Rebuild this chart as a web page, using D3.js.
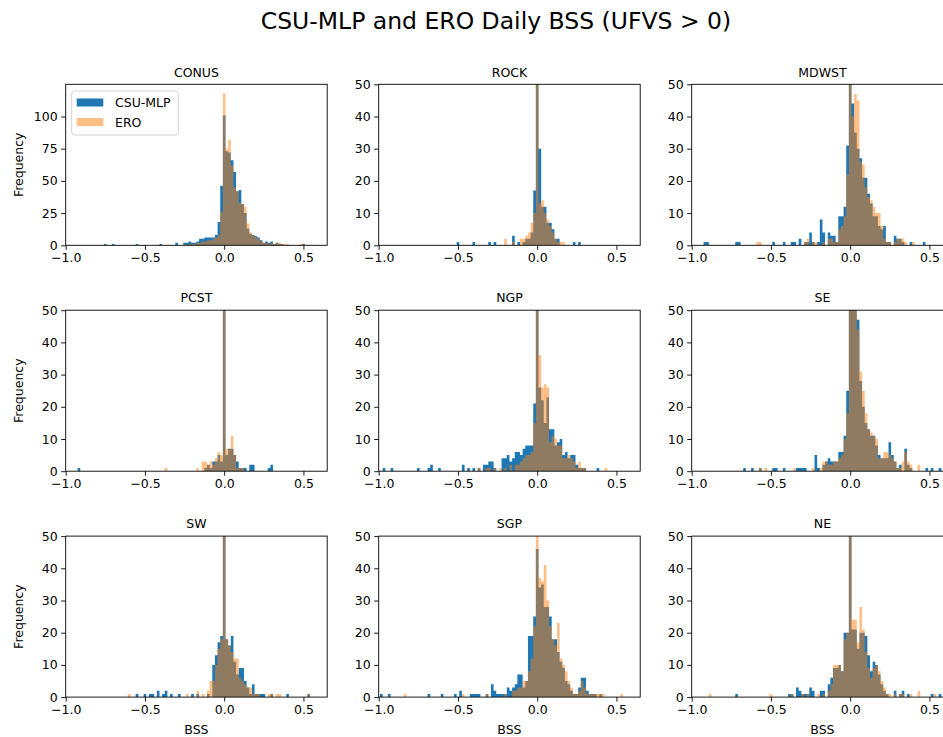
<!DOCTYPE html>
<html>
<head>
<meta charset="utf-8">
<script src="https://cdn.jsdelivr.net/npm/d3@7"></script>
<style>
  body { margin: 0; background: #fff; overflow: hidden; }
  text { font-family: "DejaVu Sans", sans-serif; fill: #000; }
</style>
</head>
<body>
<script>
// histogram bins are 1/60 wide; bin k is centred on BSS = k/60
const binWidth = 1 / 60;
const regions = ['CONUS', 'ROCK', 'MDWST', 'PCST', 'NGP', 'SE', 'SW', 'SGP', 'NE'];
const seriesNames = ['CSU-MLP', 'ERO'];
const xTicks = [-1.0, -0.5, 0.0, 0.5];
const conusTicks = [0, 25, 50, 75, 100];
const regionTicks = [0, 10, 20, 30, 40, 50];

// [bin, count] pairs, empty bins left out
const conusMlp = [[-45,1],[-42,1],[-33,1],[-24,1],[-18,2],[-15,2],[-14,2],[-13,3],[-12,2],[-11,2],[-10,3],[-9,5],[-8,5],[-7,6],[-6,6],[-5,6],[-4,6],[-3,8],[-2,18],[-1,46],[0,101],[1,73],[2,72],[3,66],[4,57],[5,42],[6,43],[7,32],[8,25],[9,13],[10,9],[11,8],[12,7],[13,6],[14,4],[15,2],[16,3],[17,2],[18,3],[19,1],[20,2],[21,1],[22,1],[30,1]];
const conusEro = [[-15,1],[-13,1],[-12,1],[-11,1],[-10,2],[-9,2],[-8,3],[-7,3],[-6,4],[-5,4],[-4,5],[-3,6],[-2,8],[-1,26],[0,118],[1,75],[2,82],[3,62],[4,45],[5,42],[6,33],[7,32],[8,30],[9,17],[10,10],[11,8],[12,6],[13,5],[14,3],[15,2],[16,2],[17,1],[18,2],[19,1],[20,2],[21,2],[22,1],[23,1],[24,1],[29,1],[30,1]];
const rockMlp = [[-30,1],[-24,1],[-18,1],[-16,1],[-9,3],[-7,1],[-5,1],[-4,2],[-3,2],[-2,4],[-1,17],[0,80],[1,30],[2,12],[3,12],[4,7],[5,7],[6,5],[7,2],[8,2],[14,1],[16,1]];
const rockEro = [[-12,2],[-9,1],[-6,2],[-5,2],[-4,3],[-3,4],[-2,7],[-1,10],[0,80],[1,13],[2,14],[3,10],[4,8],[5,6],[6,4],[7,2],[8,1],[9,1],[10,1]];
const mdwstMlp = [[-55,1],[-54,1],[-43,1],[-42,1],[-29,1],[-25,1],[-22,1],[-21,1],[-19,2],[-17,1],[-16,1],[-15,4],[-14,1],[-12,1],[-11,8],[-10,4],[-8,4],[-7,3],[-6,3],[-5,1],[-4,9],[-3,9],[-2,12],[-1,31],[0,80],[1,44],[2,35],[3,30],[4,27],[5,21],[6,21],[7,16],[8,13],[9,9],[10,9],[11,6],[12,5],[13,6],[14,1],[15,1],[17,3],[18,2],[19,2],[20,1],[23,1],[28,1]];
const mdwstEro = [[-35,1],[-34,1],[-17,1],[-16,2],[-14,1],[-13,1],[-10,1],[-8,2],[-7,2],[-6,1],[-5,1],[-4,5],[-3,6],[-2,9],[-1,22],[0,80],[1,40],[2,47],[3,45],[4,26],[5,25],[6,18],[7,15],[8,14],[9,12],[10,10],[11,10],[12,6],[13,2],[14,1],[15,1],[17,1],[18,2],[19,2],[20,2],[21,1],[24,1]];
const pcstMlp = [[-55,1],[-7,1],[-6,2],[-5,1],[-4,3],[-3,3],[-2,5],[-1,3],[0,80],[1,5],[2,7],[3,7],[4,5],[5,3],[6,1],[7,1],[8,1],[10,2],[11,2],[17,1],[18,2]];
const pcstEro = [[-22,1],[-10,1],[-8,3],[-7,3],[-6,2],[-5,3],[-4,2],[-3,4],[-2,6],[-1,5],[0,80],[1,7],[2,7],[3,11],[4,5],[5,1],[6,1],[7,1]];
const ngpMlp = [[-58,1],[-55,1],[-45,1],[-41,1],[-40,2],[-37,1],[-28,2],[-26,1],[-24,1],[-22,1],[-20,2],[-19,2],[-18,3],[-17,3],[-16,1],[-13,4],[-12,4],[-11,5],[-10,3],[-9,4],[-8,6],[-7,6],[-6,5],[-5,7],[-4,8],[-3,8],[-2,8],[-1,21],[0,80],[1,26],[2,22],[3,15],[4,23],[5,13],[6,13],[7,8],[8,9],[9,10],[10,5],[11,6],[12,4],[13,5],[14,5],[15,2],[16,1],[17,1],[18,1],[23,1]];
const ngpEro = [[-22,1],[-19,1],[-18,1],[-16,1],[-14,1],[-12,1],[-10,2],[-8,2],[-7,2],[-6,3],[-5,4],[-4,5],[-3,5],[-2,6],[-1,15],[0,80],[1,36],[2,26],[3,27],[4,26],[5,9],[6,11],[7,10],[8,8],[9,8],[10,4],[11,4],[12,5],[13,4],[14,3],[15,1],[16,3],[17,1],[18,1],[26,1]];
const seMlp = [[-40,1],[-37,1],[-34,1],[-29,1],[-28,1],[-25,1],[-20,1],[-19,1],[-18,1],[-17,1],[-13,5],[-12,1],[-10,2],[-9,3],[-8,4],[-7,3],[-6,3],[-5,3],[-4,6],[-3,6],[-2,11],[-1,25],[0,80],[1,80],[2,80],[3,47],[4,28],[5,20],[6,15],[7,13],[8,11],[9,11],[10,8],[11,5],[12,4],[13,4],[14,4],[15,9],[16,5],[17,3],[18,1],[19,2],[21,7],[22,2],[23,1],[29,1],[31,1],[34,1]];
const seEro = [[-34,1],[-32,1],[-21,1],[-14,1],[-11,1],[-10,3],[-9,3],[-8,2],[-7,2],[-6,3],[-5,3],[-4,4],[-3,5],[-2,10],[-1,18],[0,80],[1,80],[2,80],[3,44],[4,31],[5,25],[6,18],[7,13],[8,12],[9,11],[10,10],[11,4],[12,4],[13,6],[14,6],[15,5],[16,4],[17,3],[18,1],[19,1],[20,3],[21,6],[22,3],[23,2],[26,2]];
const swMlp = [[-33,1],[-30,1],[-28,1],[-27,1],[-25,2],[-23,1],[-22,2],[-20,1],[-17,1],[-12,1],[-10,1],[-6,1],[-4,10],[-3,13],[-2,17],[-1,19],[0,80],[1,18],[2,16],[3,19],[4,11],[5,7],[6,9],[7,9],[8,5],[9,3],[10,1],[11,4],[12,1],[13,1],[14,1],[15,1],[18,1],[24,1],[32,1]];
const swEro = [[-36,1],[-14,1],[-10,2],[-8,1],[-6,2],[-5,5],[-4,5],[-3,10],[-2,15],[-1,18],[0,80],[1,18],[2,16],[3,14],[4,12],[5,12],[6,6],[7,5],[8,4],[9,3],[10,3],[11,1],[12,1],[13,1],[17,1],[18,1],[20,1],[21,1],[32,1]];
const sgpMlp = [[-59,1],[-56,1],[-41,1],[-36,1],[-31,1],[-29,2],[-25,1],[-24,1],[-23,1],[-22,1],[-19,1],[-17,4],[-16,2],[-15,1],[-14,1],[-13,1],[-12,1],[-11,3],[-10,2],[-9,3],[-8,4],[-7,7],[-6,7],[-5,3],[-4,5],[-3,19],[-2,19],[-1,25],[0,46],[1,34],[2,35],[3,28],[4,28],[5,25],[6,18],[7,18],[8,14],[9,11],[10,9],[11,5],[12,4],[13,2],[14,1],[15,1],[16,3],[17,6],[18,6],[19,2],[20,1],[21,1],[22,1],[24,1]];
const sgpEro = [[-50,1],[-28,1],[-19,1],[-12,1],[-9,2],[-8,2],[-7,3],[-6,3],[-5,5],[-4,5],[-3,8],[-2,12],[-1,22],[0,55],[1,37],[2,36],[3,41],[4,30],[5,22],[6,18],[7,16],[8,23],[9,12],[10,10],[11,8],[12,5],[13,3],[14,1],[15,1],[16,2],[17,5],[18,3],[19,1],[20,1],[21,1],[22,1],[23,1],[24,1],[25,1],[32,1]];
const neMlp = [[-43,1],[-23,1],[-22,1],[-20,3],[-19,2],[-18,1],[-17,1],[-16,1],[-15,3],[-14,2],[-11,2],[-10,2],[-8,4],[-7,6],[-6,9],[-5,9],[-4,10],[-3,8],[-2,20],[-1,20],[0,80],[1,21],[2,21],[3,15],[4,20],[5,20],[6,19],[7,13],[8,8],[9,11],[10,10],[11,7],[12,4],[13,2],[14,1],[17,2],[19,1],[20,2],[22,1],[31,1],[34,1]];
const neEro = [[-53,1],[-30,1],[-22,1],[-18,1],[-16,1],[-12,1],[-10,1],[-8,2],[-7,4],[-6,10],[-5,10],[-4,10],[-3,8],[-2,18],[-1,20],[0,80],[1,24],[2,24],[3,17],[4,28],[5,21],[6,14],[7,9],[8,6],[9,9],[10,10],[11,8],[12,5],[13,3],[14,1],[15,1],[17,1],[19,1],[20,1],[23,1],[26,2],[32,1]];

const mlpSeries = [conusMlp, rockMlp, mdwstMlp, pcstMlp, ngpMlp, seMlp, swMlp, sgpMlp, neMlp];
const eroSeries = [conusEro, rockEro, mdwstEro, pcstEro, ngpEro, seEro, swEro, sgpEro, neEro];

const svg = d3.select('body')
  .append('svg')
  .attr('width', 943)
  .attr('height', 737)

const blue = '#1f77b4'
const orange = '#ff7f0e'
const fontSize = 12.5

const left0 = 65.7, colStep = 313, top0 = 84.3, rowStep = 225.9
const width = 261.5, height = 161

svg.append('text')
  .attr('x', 496)
  .attr('y', 28.5)
  .attr('text-anchor', 'middle')
  .style('font-size', '23.5px')
  .text('CSU-MLP and ERO Daily BSS (UFVS > 0)')

// turn [bin, count] pairs into a step outline
function toSteps(pairs) {
  const counts = new Map(pairs)
  return d3.range(-61, 41).map(k => ({ x0: (k - 0.5) * binWidth, n: counts.get(k) || 0 }))
}

regions.forEach(function (name, i) {
  const col = i % 3, row = Math.floor(i / 3)
  const isConus = name === 'CONUS'
  const g = svg.append('g')
    .attr('transform', 'translate(' + (left0 + col * colStep) + ',' + (top0 + row * rowStep) + ')')

  const xScale = d3.scaleLinear().domain([-1, 0.65]).range([0, width])
  const yScale = d3.scaleLinear().domain([0, isConus ? 125 : 50]).range([height, 0])

  g.append('clipPath').attr('id', 'clip' + i)
    .append('rect').attr('width', width).attr('height', height)

  const area = d3.area()
    .curve(d3.curveStepAfter)
    .x(d => xScale(d.x0))
    .y0(yScale(0))
    .y1(d => yScale(d.n))

  const marks = g.append('g').attr('clip-path', 'url(#clip' + i + ')')
  marks.append('path')
    .datum(toSteps(mlpSeries[i]))
    .attr('d', area)
    .attr('fill', blue)
  marks.append('path')
    .datum(toSteps(eroSeries[i]))
    .attr('d', area)
    .attr('fill', orange)
    .attr('fill-opacity', 0.5)

  // X-Axis
  const xAxis = g.append('g')
    .attr('transform', 'translate(0,' + height + ')')
    .call(d3.axisBottom(xScale).tickValues(xTicks).tickFormat(d3.format('.1f')).tickSize(4.5).tickPadding(3.5))
  // Y-Axis
  const yAxis = g.append('g')
    .call(d3.axisLeft(yScale).tickValues(isConus ? conusTicks : regionTicks).tickSize(4.5).tickPadding(3.5))
  ;[xAxis, yAxis].forEach(a => {
    a.select('.domain').remove()
    a.selectAll('line').attr('stroke', '#000').attr('stroke-width', 0.9)
    a.selectAll('text').style('font-size', fontSize + 'px').style('font-family', '"DejaVu Sans", sans-serif').attr('fill', '#000')
  })

  // spines
  g.append('rect')
    .attr('width', width)
    .attr('height', height)
    .attr('fill', 'none')
    .attr('stroke', '#000')
    .attr('stroke-width', 0.9)

  g.append('text')
    .attr('x', width / 2)
    .attr('y', -7.8)
    .attr('text-anchor', 'middle')
    .style('font-size', fontSize + 'px')
    .text(name)

  if (col === 0) {
    g.append('text')
      .attr('transform', 'translate(' + (-43) + ',' + (height / 2) + ') rotate(-90)')
      .attr('text-anchor', 'middle')
      .style('font-size', fontSize + 'px')
      .text('Frequency')
  }
  if (row === 2) {
    g.append('text')
      .attr('x', width / 2)
      .attr('y', height + 36.5)
      .attr('text-anchor', 'middle')
      .style('font-size', fontSize + 'px')
      .text('BSS')
  }

  // Legend
  if (isConus) {
    const legend = g.append('g').attr('transform', 'translate(6,6.7)')
    legend.append('rect')
      .attr('width', 106.6)
      .attr('height', 44)
      .attr('rx', 3)
      .attr('fill', '#fff')
      .attr('fill-opacity', 0.8)
      .attr('stroke', '#cccccc')
      .attr('stroke-width', 0.9)
    legend.selectAll('.swatch')
      .data(seriesNames)
      .enter()
      .append('rect')
      .attr('x', 5)
      .attr('y', (d, j) => 7.5 + j * 19.5)
      .attr('width', 26.6)
      .attr('height', 8)
      .attr('fill', (d, j) => j === 0 ? blue : orange)
      .attr('fill-opacity', (d, j) => j === 0 ? 1 : 0.5)
    legend.selectAll('.label')
      .data(seriesNames)
      .enter()
      .append('text')
      .attr('x', 43.3)
      .attr('y', (d, j) => 15.8 + j * 19.8)
      .style('font-size', fontSize + 'px')
      .text(d => d)
  }
})
</script>
</body>
</html>
